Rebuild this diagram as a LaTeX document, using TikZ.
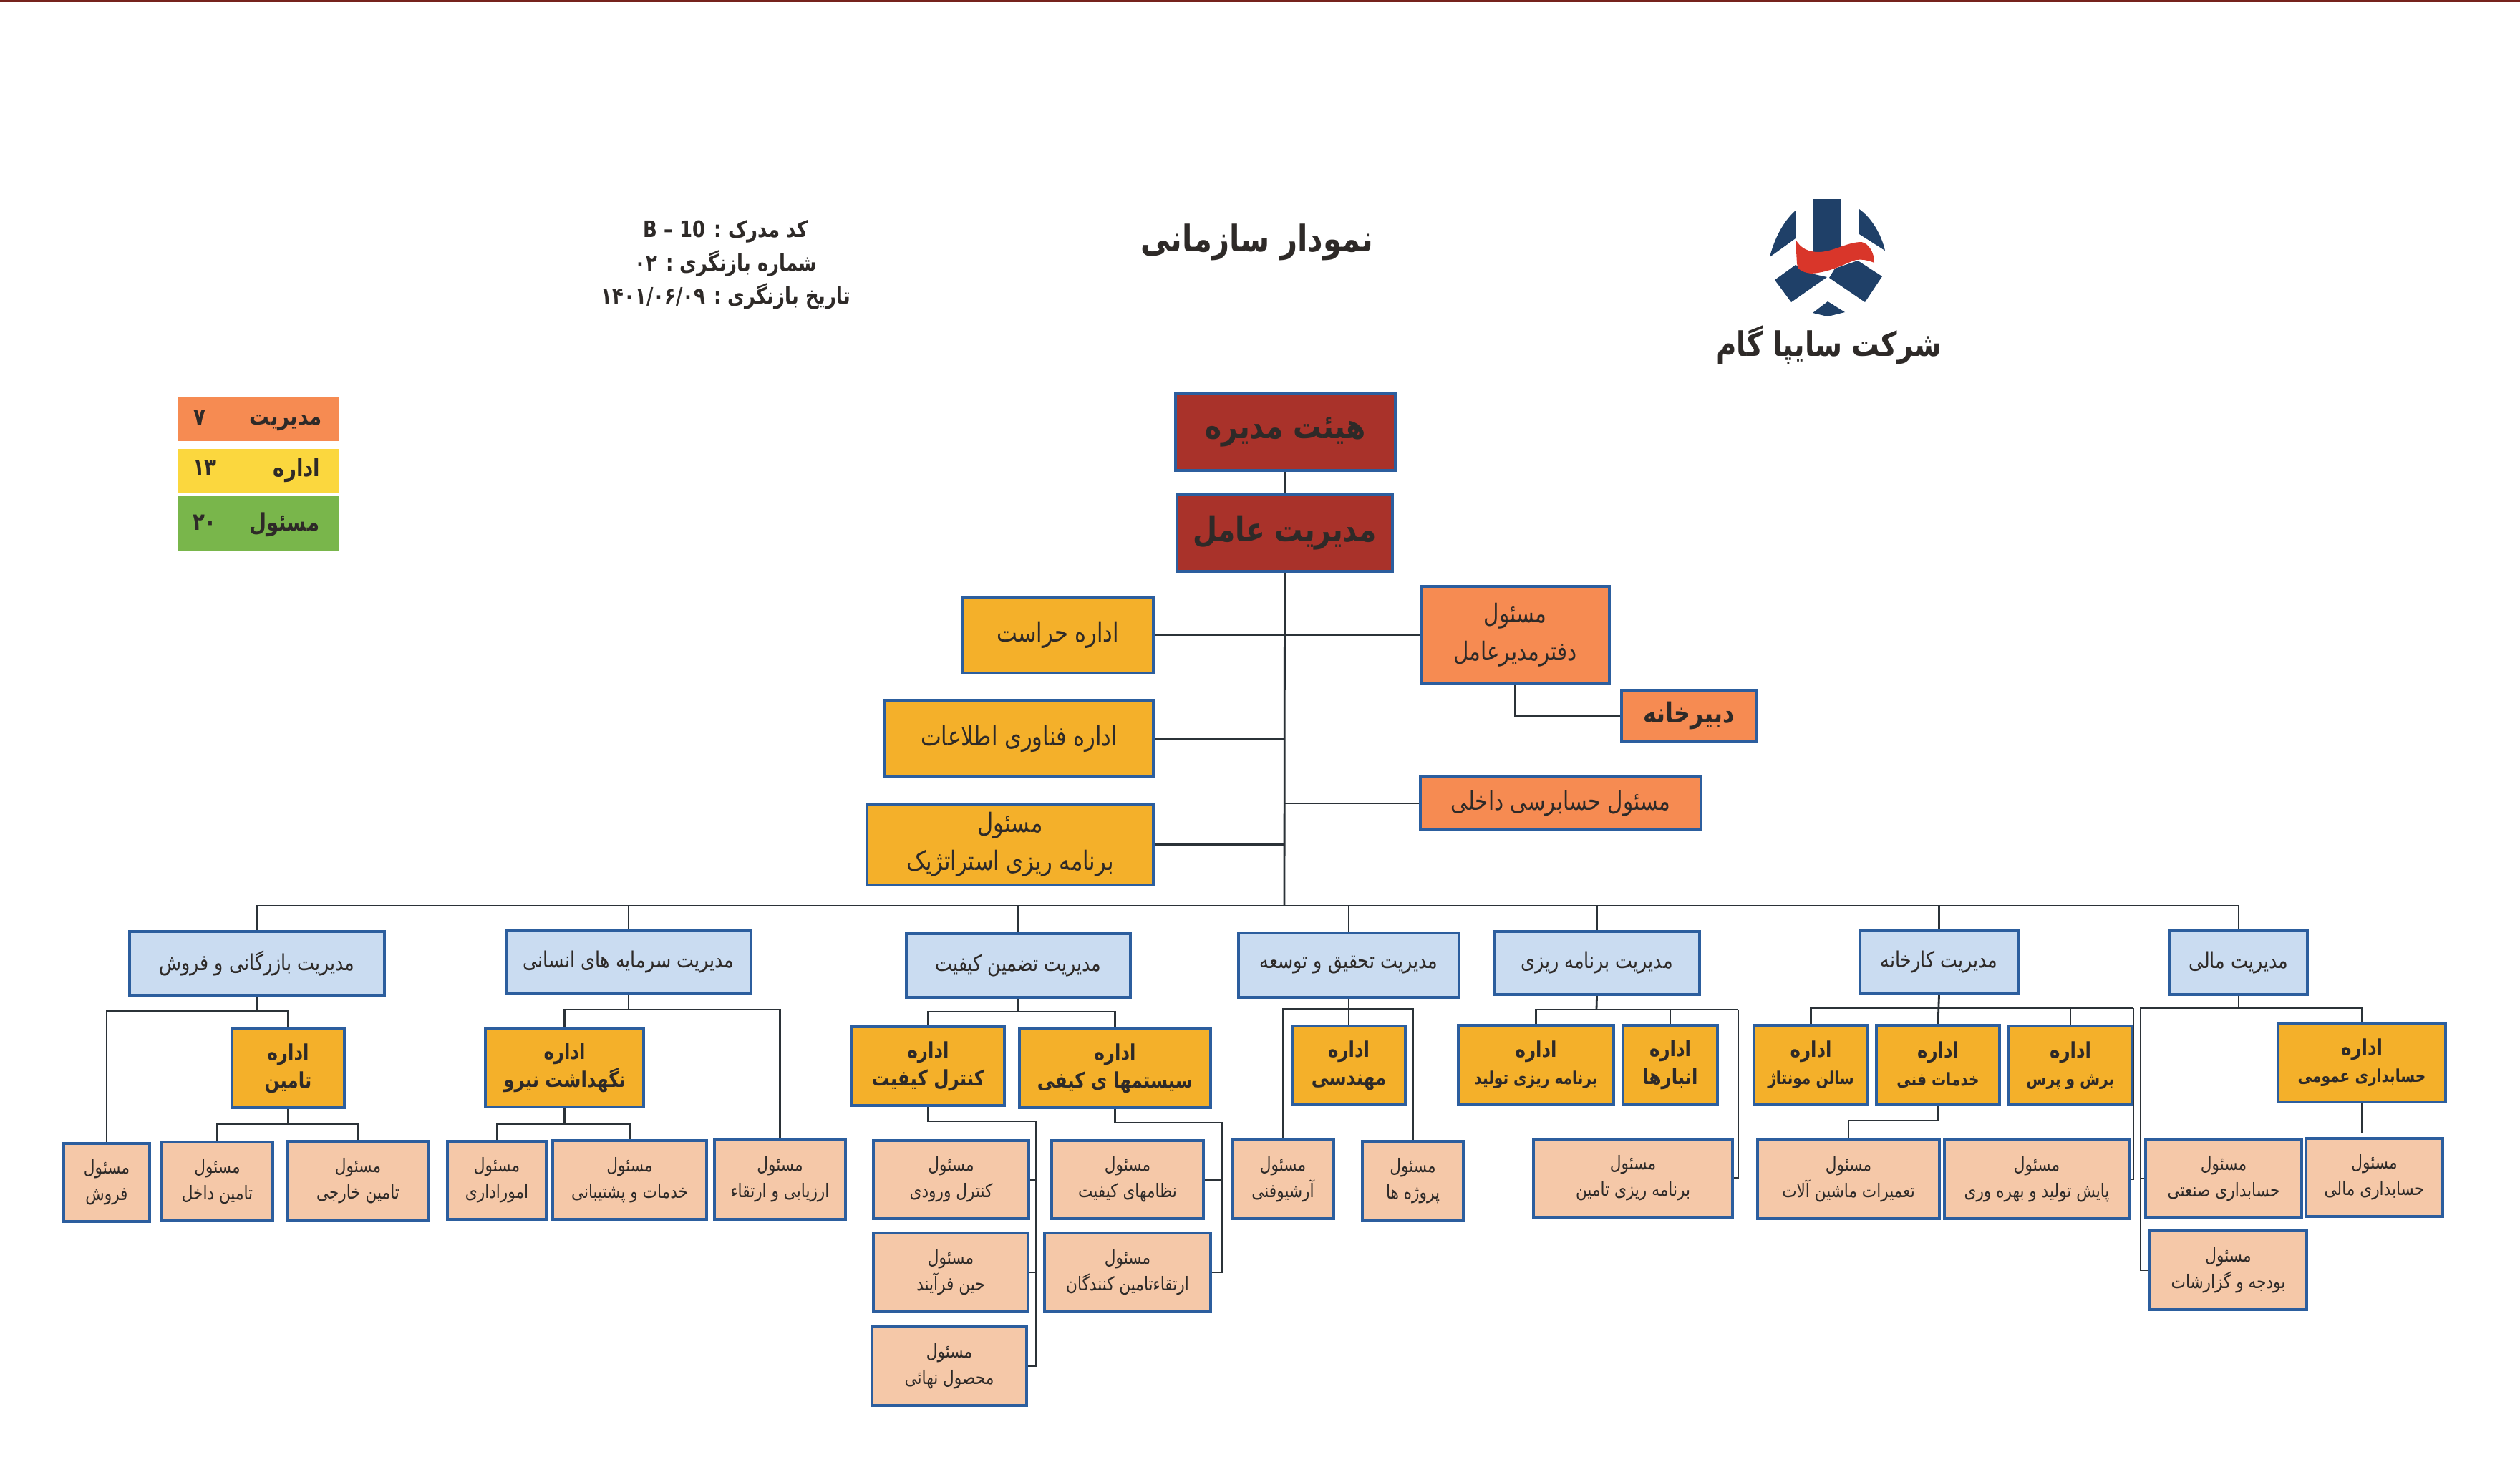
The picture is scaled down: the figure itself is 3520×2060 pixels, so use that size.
\documentclass[tikz,border=0pt]{standalone}
\usepackage{fontspec}
\usepackage{xcolor}
\usepackage{tikz}
\usetikzlibrary{positioning,calc}
\TeXXeTstate=1
\newfontfamily\fafont[Script=Arabic,FakeStretch=0.82]{DejaVu Sans}
\newcommand{\rl}[1]{\beginR #1\endR}
\newcommand{\rs}[1]{\fontsize{7}{11}\selectfont\beginR #1\endR}
\definecolor{sgborder}{HTML}{2C5E9E}
\definecolor{sgline}{HTML}{2B3238}
\definecolor{sgtext}{HTML}{2E2A28}
\definecolor{sgred}{HTML}{A9322A}
\definecolor{sgdept}{HTML}{F4B02A}
\definecolor{sgorange}{HTML}{F68B52}
\definecolor{sgblue}{HTML}{CADCF1}
\definecolor{sgpink}{HTML}{F5C8A8}
\definecolor{sglogo}{HTML}{1F4068}
\definecolor{sglogored}{HTML}{D9362A}
\definecolor{sgyellow}{HTML}{FBD73E}
\definecolor{sggreen}{HTML}{79B64B}

\begin{document}
\begin{tikzpicture}[x=0.01cm, y=-0.01cm,
  sgbox/.style={draw=sgborder, line width=1.2pt, inner sep=0pt, align=center, text=sgtext},
  topbox/.style={sgbox, fill=sgred, font=\fafont\bfseries\fontsize{13.6}{16}\selectfont},
  staffbox/.style={sgbox, fill=sgdept, font=\fafont\fontsize{10.6}{15}\selectfont},
  officebox/.style={sgbox, fill=sgorange, font=\fafont\fontsize{10.2}{15}\selectfont},
  mgrbox/.style={sgbox, fill=sgblue, font=\fafont\fontsize{8.8}{10}\selectfont},
  deptbox/.style={sgbox, fill=sgdept, font=\fafont\bfseries\fontsize{8.5}{11}\selectfont},
  unitbox/.style={sgbox, fill=sgpink, font=\fafont\fontsize{7.5}{10.5}\selectfont},
  keybox/.style={inner sep=0pt, minimum width=2.26cm},
  keytext/.style={font=\fafont\bfseries\fontsize{9.6}{11}\selectfont, text=sgtext, inner sep=0pt},
  headtext/.style={font=\fafont\bfseries\fontsize{9}{13.2}\selectfont, text=sgtext, align=center, inner sep=0pt},
  conn/.style={draw=sgline, line width=0.8pt},
]
\useasboundingbox (0,0) rectangle (3520,2060);
\fill[sgred!70!black] (0,0) rectangle (3520,3);

% header
\node[font=\fafont\bfseries\fontsize{14.5}{17}\selectfont, text=sgtext, inner sep=0pt] (title) at (1756,338) {\rl{نمودار سازمانی}};
\node[font=\fafont\bfseries\fontsize{13.4}{16}\selectfont, text=sgtext, inner sep=0pt] (company) at (2555,482) {\rl{شرکت سایپا گام}};
\node[headtext] (docinfo) at (1014,370) {\rl{کد مدرک : \beginL B – 10\endL}\\ \rl{شماره بازنگری : \beginL ۰۲\endL}\\ \rl{تاریخ بازنگری : \beginL ۱۴۰۱/۰۶/۰۹\endL}};

% logo
\fill[sglogo] (2532,278) rectangle (2571,352);
\fill[sglogo] (2508,294) .. controls (2490,310) and (2478,335) .. (2472,359) -- (2508,333) -- cycle;
\fill[sglogo] (2597,292) .. controls (2615,305) and (2628,328) .. (2633,350) -- (2597,327) -- cycle;
\fill[sglogo] (2508,370) -- (2479,391) -- (2502,422) -- (2552,387) -- (2530,382) -- cycle;
\fill[sglogo] (2595,364) -- (2629,386) -- (2605,422) -- (2555,388) -- (2563,375) -- cycle;
\fill[sglogo] (2553,421) -- (2577,436) -- (2553,442) -- (2532,437) -- cycle;
\fill[sglogored] (2508,334) .. controls (2515,348) and (2528,352) .. (2540,352) .. controls (2560,352) and (2580,338) .. (2600,338) .. controls (2610,340) and (2618,352) .. (2618,367) .. controls (2608,363) and (2600,362) .. (2593,363) .. controls (2580,366) and (2560,380) .. (2530,382) .. controls (2515,380) and (2510,375) .. (2510,368) -- cycle;

% legend
\node[keybox, fill=sgorange, minimum height=0.61cm] (keym) at (361,585.5) {};
\node[keybox, fill=sgyellow, minimum height=0.62cm] (keyd) at (361,658) {};
\node[keybox, fill=sggreen, minimum height=0.77cm] (keyu) at (361,731.5) {};
\node[keytext, anchor=east] (keymt) at (450,591) {\rl{مدیریت}};
\node[keytext, anchor=east] (keydt) at (448,657) {\rl{اداره}};
\node[keytext, anchor=east] (keyut) at (447,733) {\rl{مسئول}};
\node[keytext] (keymn) at (279,584) {۷};
\node[keytext] (keydn) at (286,654) {\beginL ۱۳\endL};
\node[keytext] (keyun) at (286,730) {\beginL ۲۰\endL};

% top of the chart
\node[topbox, minimum width=3.07cm, minimum height=1.08cm] (board) at (1795.5,603) {\rl{هیئت مدیره}};
\node[topbox, minimum width=3.01cm, minimum height=1.07cm] (ceo) at (1794.5,744.5) {\rl{مدیریت عامل}};
\node[staffbox, minimum width=2.67cm, minimum height=1.06cm] (guard) at (1477.5,887) {\rl{اداره حراست}};
\node[staffbox, minimum width=3.75cm, minimum height=1.07cm] (it) at (1423.5,1031.5) {\rl{اداره فناوری اطلاعات}};
\node[staffbox, minimum width=4.00cm, minimum height=1.13cm] (strat) at (1411,1179.5) {\rl{مسئول}\\ \rl{برنامه ریزی استراتژیک}};
\node[officebox, minimum width=2.63cm, minimum height=1.36cm] (office) at (2116.5,887) {\rl{مسئول}\\ \rl{دفترمدیرعامل}};
\node[officebox, font=\fafont\bfseries\fontsize{11}{13}\selectfont, minimum width=1.88cm, minimum height=0.71cm] (secr) at (2359,999.5) {\rl{دبیرخانه}};
\node[officebox, minimum width=3.92cm, minimum height=0.74cm] (audit) at (2180,1122) {\rl{مسئول حسابرسی داخلی}};
\coordinate (bus) at (1794,1265);
\draw[conn] (board) -- (ceo);
\draw[conn] (ceo.south) -- (bus);
\draw[conn] (guard) -- (office);
\draw[conn] (it.east) -- (it.east -| ceo.south);
\draw[conn] (strat.east) -- (strat.east -| ceo.south);
\draw[conn] (audit.west) -- (audit.west -| ceo.south);
\draw[conn] (office.south) |- (secr.west);

% managers
\node[mgrbox, minimum width=3.56cm, minimum height=0.89cm] (msales) at (359,1345.5) {\rl{مدیریت بازرگانی و فروش}};
\node[mgrbox, minimum width=3.42cm, minimum height=0.89cm] (mhr) at (878,1343.5) {\rl{مدیریت سرمایه های انسانی}};
\node[mgrbox, minimum width=3.13cm, minimum height=0.89cm] (mqa) at (1422.5,1348.5) {\rl{مدیریت تضمین کیفیت}};
\node[mgrbox, minimum width=3.08cm, minimum height=0.90cm] (mrd) at (1884,1348) {\rl{مدیریت تحقیق و توسعه}};
\node[mgrbox, minimum width=2.87cm, minimum height=0.88cm] (mplan) at (2230.5,1345) {\rl{مدیریت برنامه ریزی}};
\node[mgrbox, minimum width=2.21cm, minimum height=0.89cm] (mplant) at (2708.5,1343.5) {\rl{مدیریت کارخانه}};
\node[mgrbox, minimum width=1.92cm, minimum height=0.89cm] (mfin) at (3127,1344.5) {\rl{مدیریت مالی}};
\draw[conn] (msales.north) |- (bus) -| (mfin.north);
\foreach \m in {mhr,mqa,mrd,mplan,mplant} {
  \draw[conn] (\m.north) -- (\m.north |- bus);
}

% sales
\node[deptbox, minimum width=1.57cm, minimum height=1.10cm] (dsupply) at (402.5,1492) {\rl{اداره}\\ \rl{تامین}};
\node[unitbox, minimum width=1.20cm, minimum height=1.09cm] (usale) at (149,1651.5) {\rl{مسئول}\\ \rl{فروش}};
\node[unitbox, minimum width=1.55cm, minimum height=1.10cm] (uinner) at (303.5,1650) {\rl{مسئول}\\ \rl{تامین داخل}};
\node[unitbox, minimum width=1.96cm, minimum height=1.10cm] (uouter) at (500,1649) {\rl{مسئول}\\ \rl{تامین خارجی}};
\coordinate (jsales) at (359,1412);
\coordinate (jsupply) at (402.5,1570);
\draw[conn] (msales.south) -- (jsales);
\draw[conn] (usale.north) |- (jsales) -| (dsupply.north);
\draw[conn] (dsupply.south) -- (jsupply);
\draw[conn] (uinner.north) |- (jsupply) -| (uouter.north);

% human resources
\node[deptbox, minimum width=2.21cm, minimum height=1.10cm] (dcare) at (788.5,1491) {\rl{اداره}\\ \rl{نگهداشت نیرو}};
\node[unitbox, minimum width=1.38cm, minimum height=1.09cm] (uadmin) at (694,1648.5) {\rl{مسئول}\\ \rl{اموراداری}};
\node[unitbox, minimum width=2.15cm, minimum height=1.10cm] (usupport) at (879.5,1648) {\rl{مسئول}\\ \rl{خدمات و پشتیبانی}};
\node[unitbox, minimum width=1.83cm, minimum height=1.11cm] (ueval) at (1089.5,1647.5) {\rl{مسئول}\\ \rl{ارزیابی و ارتقاء}};
\coordinate (jhr) at (878,1410);
\coordinate (jcare) at (788.5,1570);
\draw[conn] (mhr.south) -- (jhr);
\draw[conn] (dcare.north) |- (jhr) -| (ueval.north);
\draw[conn] (dcare.south) -- (jcare);
\draw[conn] (uadmin.north) |- (jcare) -| (usupport.north);

% quality
\node[deptbox, minimum width=2.13cm, minimum height=1.10cm] (dqc) at (1296.5,1489) {\rl{اداره}\\ \rl{کنترل کیفیت}};
\node[deptbox, minimum width=2.67cm, minimum height=1.10cm] (dsys) at (1557.5,1492) {\rl{اداره}\\ \rl{سیستمها ی کیفی}};
\node[unitbox, minimum width=2.17cm, minimum height=1.09cm] (uin) at (1328.5,1647.5) {\rl{مسئول}\\ \rl{کنترل ورودی}};
\node[unitbox, minimum width=2.16cm, minimum height=1.10cm] (uproc) at (1328,1777) {\rl{مسئول}\\ \rl{حین فرآیند}};
\node[unitbox, minimum width=2.16cm, minimum height=1.10cm] (ufinal) at (1326,1908) {\rl{مسئول}\\ \rl{محصول نهائی}};
\node[unitbox, minimum width=2.12cm, minimum height=1.09cm] (usys) at (1575,1647.5) {\rl{مسئول}\\ \rl{نظامهای کیفیت}};
\node[unitbox, minimum width=2.32cm, minimum height=1.10cm] (uvend) at (1575,1777) {\rl{مسئول}\\ \rl{ارتقاءتامین کنندگان}};
\coordinate (jqa) at (1422.5,1413);
\coordinate (rqc) at (1447,1566);
\coordinate (rsys) at (1707,1568);
\draw[conn] (mqa.south) -- (jqa);
\draw[conn] (dqc.north) |- (jqa) -| (dsys.north);
\draw[conn] (dqc.south) |- (rqc) |- (ufinal.east);
\draw[conn] (uin.east) -- (uin.east -| rqc);
\draw[conn] (uproc.east) -- (uproc.east -| rqc);
\draw[conn] (dsys.south) |- (rsys) |- (uvend.east);
\draw[conn] (usys.east) -- (usys.east -| rsys);

% research
\node[deptbox, minimum width=1.58cm, minimum height=1.10cm] (deng) at (1884,1488) {\rl{اداره}\\ \rl{مهندسی}};
\node[unitbox, minimum width=1.42cm, minimum height=1.10cm] (uarch) at (1792,1647) {\rl{مسئول}\\ \rl{آرشیوفنی}};
\node[unitbox, minimum width=1.41cm, minimum height=1.11cm] (uproj) at (1973.5,1649.5) {\rl{مسئول}\\ \rl{پروژه ها}};
\coordinate (jrd) at (1884,1409);
\draw[conn] (mrd.south) -- (deng.north);
\draw[conn] (uarch.north) |- (jrd) -| (uproj.north);

% planning
\node[deptbox, minimum width=2.17cm, minimum height=1.10cm] (dprod) at (2145.5,1487) {\rl{اداره}\\ \rs{برنامه ریزی تولید}};
\node[deptbox, minimum width=1.32cm, minimum height=1.10cm] (dstore) at (2333,1487) {\rl{اداره}\\ \rl{انبارها}};
\node[unitbox, minimum width=2.78cm, minimum height=1.09cm] (usupp) at (2281,1645.5) {\rl{مسئول}\\ \rl{برنامه ریزی تامین}};
\coordinate (jplan) at (2230,1410);
\coordinate (rplan) at (2428,1410);
\draw[conn] (mplan.south) -- (jplan);
\draw[conn] (dprod.north) |- (rplan);
\draw[conn] (dstore.north) -- (dstore.north |- rplan);
\draw[conn] (rplan) |- (usupp.east);

% plant
\node[deptbox, minimum width=1.59cm, minimum height=1.10cm] (dhall) at (2529.5,1487) {\rl{اداره}\\ \rs{سالن مونتاژ}};
\node[deptbox, minimum width=1.72cm, minimum height=1.10cm] (dtech) at (2707,1487) {\rl{اداره}\\ \rs{خدمات فنی}};
\node[deptbox, minimum width=1.72cm, minimum height=1.10cm] (dpress) at (2892,1488) {\rl{اداره}\\ \rs{برش و پرس}};
\node[unitbox, minimum width=2.54cm, minimum height=1.10cm] (urepair) at (2582,1647) {\rl{مسئول}\\ \rl{تعمیرات ماشین آلات}};
\node[unitbox, minimum width=2.58cm, minimum height=1.10cm] (umon) at (2845,1647) {\rl{مسئول}\\ \rl{پایش تولید و بهره وری}};
\coordinate (rplant) at (2980,1408);
\coordinate (jtech) at (2707,1565);
\draw[conn] (mplant.south) -- (dtech.north);
\draw[conn] (dhall.north) |- (rplant);
\draw[conn] (dpress.north) -- (dpress.north |- rplant);
\draw[conn] (rplant) |- (umon.east);
\draw[conn] (dtech.south) -- (jtech);
\draw[conn] (jtech) -| (urepair.north);

% finance
\node[deptbox, minimum width=2.34cm, minimum height=1.10cm] (dgen) at (3299,1484) {\rl{اداره}\\ \rs{حسابداری عمومی}};
\node[unitbox, minimum width=2.18cm, minimum height=1.08cm] (uind) at (3106,1646) {\rl{مسئول}\\ \rl{حسابداری صنعتی}};
\node[unitbox, minimum width=1.91cm, minimum height=1.09cm] (ufin) at (3316.5,1644.5) {\rl{مسئول}\\ \rl{حسابداری مالی}};
\node[unitbox, minimum width=2.19cm, minimum height=1.10cm] (ubudget) at (3112.5,1774) {\rl{مسئول}\\ \rl{بودجه و گزارشات}};
\coordinate (jfin) at (3127,1408);
\coordinate (lfin) at (2990,1408);
\coordinate (egen) at (3299,1582);
\draw[conn] (mfin.south) -- (jfin);
\draw[conn] (dgen.north) |- (lfin) |- (ubudget.west);
\draw[conn] (uind.west) -- (uind.west -| lfin);
\draw[conn] (dgen.south) -- (egen);
\end{tikzpicture}
\end{document}
